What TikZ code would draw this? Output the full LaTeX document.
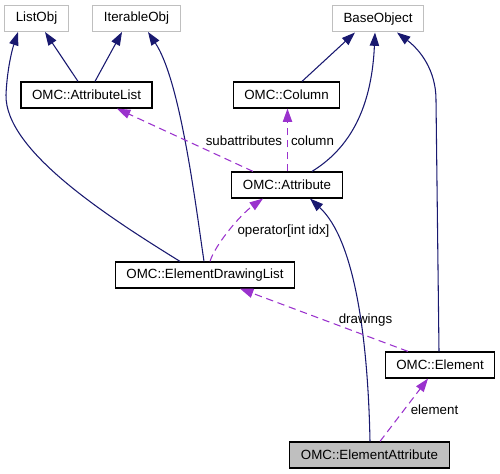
\documentclass[tikz,border=0pt]{standalone}
\usepackage{fontspec}
\setmainfont{Liberation Sans}
\usepackage{tikz}
\usepackage{xcolor}
\usetikzlibrary{arrows.meta,calc}

\definecolor{inhblue}{HTML}{191970}
\definecolor{usepurple}{HTML}{9A32CD}
\definecolor{extgray}{HTML}{BFBFBF}

\begin{document}
\begin{tikzpicture}[x=0.75pt,y=-0.75pt,font=\fontsize{10}{12}\selectfont,
  cls/.style={draw=black,line width=0.9pt,minimum height=19.5pt,inner xsep=8.3pt,inner ysep=0pt},
  extcls/.style={cls,draw=extgray,line width=0.75pt},
  inh/.style={draw=inhblue,line width=0.8pt,-{Triangle[length=10pt,width=7pt]}},
  usage/.style={draw=usepurple,line width=0.8pt,dash pattern=on 5.5pt off 3.5pt,-{Triangle[length=10pt,width=7pt]}}]
\useasboundingbox (0,0) rectangle (500,474);

% classes
\node[extcls] (listobj) at (36.5,18.5) {ListObj};
\node[extcls] (iterobj) at (136.5,18.5) {IterableObj};
\node[extcls] (baseobj) at (378,19) {BaseObject};
\node[cls] (attrlist) at (86.5,95) {OMC::AttributeList};
\node[cls] (column) at (286.5,95) {OMC::Column};
\node[cls] (attribute) at (287,185) {OMC::Attribute};
\node[cls] (drawlist) at (205,275) {OMC::ElementDrawingList};
\node[cls] (element) at (440,365) {OMC::Element};
\node[cls,fill=extgray] (elemattr) at (369.5,455) {OMC::ElementAttribute};

% inheritance
\draw[inh] ($(attrlist.north)+(-8.5,0)$) -- ($(listobj.south)+(8.5,0)$);
\draw[inh] ($(attrlist.north)+(8.5,0)$) -- ($(iterobj.south)+(-14.5,0)$);
\draw[inh] ($(drawlist.north)+(-25,0)$) .. controls (105,215) and (5,150) .. (6,95) .. controls (7,70) and (12,50) .. ($(listobj.south)+(-18.5,0)$);
\draw[inh] ($(drawlist.north)+(-1,0)$) .. controls (195,200) and (180,80) .. ($(iterobj.south)+(11.5,0)$);
\draw[inh] ($(column.north)+(15.5,0)$) -- ($(baseobj.south)+(-23,0)$);
\draw[inh] ($(attribute.north)+(25,0)$) .. controls (355,145) and (372,100) .. ($(baseobj.south)+(-3,0)$);
\draw[inh] ($(element.north)+(-1,0)$) -- (436,100) .. controls (436,70) and (420,50) .. ($(baseobj.south)+(19,0)$);
\draw[inh] ($(elemattr.north)+(0.5,0)$) .. controls (368,340) and (355,240) .. ($(attribute.south)+(23,0)$);

% usage
\draw[usage] ($(attribute.north)+(0.5,0)$) -- ($(column.south)+(1,0)$);
\draw[usage] ($(attribute.north)+(-34,0)$) -- ($(attrlist.south)+(30.5,0)$);
\draw[usage] ($(drawlist.north)+(5,0)$) .. controls (215,245) and (240,215) .. ($(attribute.south)+(-24,0)$);
\draw[usage] ($(element.north)+(-32,0)$) -- ($(drawlist.south)+(35,0)$);
\draw[usage] ($(elemattr.north)+(10.5,0)$) -- ($(element.south)+(-12,0)$);

\node (lblsub) at (244,141) {subattributes};
\node (lblcol) at (312.5,141) {column};
\node (lblop) at (283.5,231.5) {operator[int idx]};
\node (lbldraw) at (365.5,320.5) {drawings};
\node (lblelem) at (434.5,410) {element};

\end{tikzpicture}
\end{document}
